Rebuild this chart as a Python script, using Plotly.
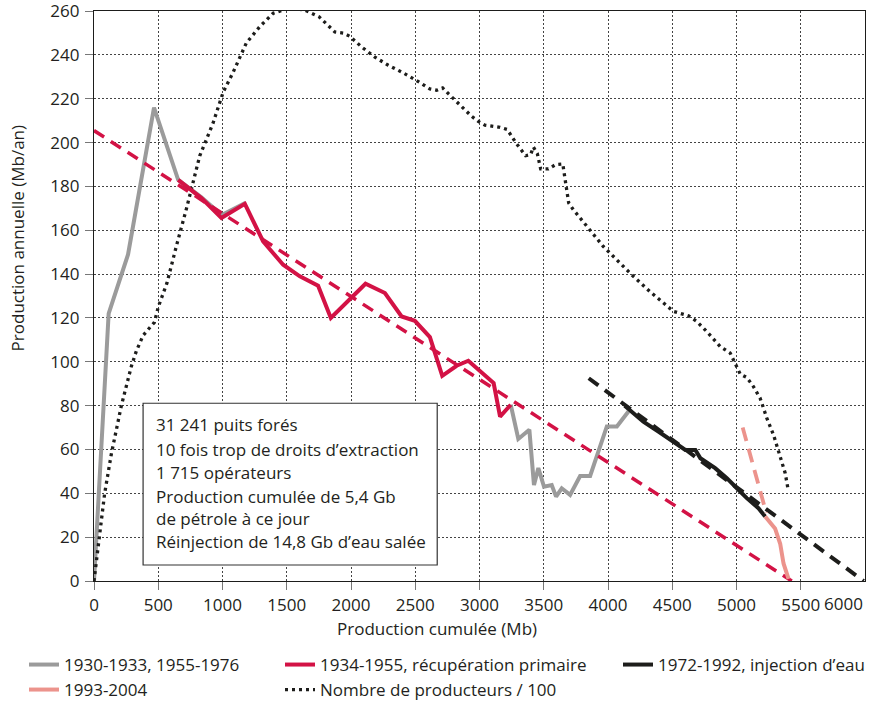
import plotly.graph_objects as go

# ---- data (cumulative production in Mb, annual production in Mb/yr) ----
gray_x = [0, 114, 265, 467, 655, 836, 994, 1180, None,
          3243, 3302, 3388, 3424, 3458, 3502, 3562, 3596, 3640, 3705, 3783, 3861, 3991, 4069, 4159]
gray_y = [0, 122, 149, 216, 183, 175, 167, 172.5, None,
          80.4, 64.8, 69, 43.8, 51.5, 43, 43.8, 38.5, 42.3, 39.3, 47.9, 47.9, 70.5, 70.5, 77.3]

red_x = [655, 836, 992, 1174, 1316, 1472, 1602, 1744, 1843, 2113, 2264, 2394, 2497,
         2614, 2710, 2822, 2913, 3110, 3160, 3243]
red_y = [183, 174.7, 165.6, 172.1, 154.9, 144.3, 139, 134.7, 120, 135.6, 131.4, 120.7, 118.7,
         111.3, 93.6, 98.2, 100.5, 90.3, 75, 80.4]
red_trend_x = [0, 5430]
red_trend_y = [205.5, 0]

black_x = [4130, 4275, 4392, 4486, 4602, 4680, 4719, 4834, 4925, 5003, 5080, 5171, 5223]
black_y = [80, 72.7, 68.2, 64.4, 59.8, 59.8, 56, 51.5, 46.9, 42.3, 37.8, 33.2, 29.4]
black_trend_x = [3850, 5990]
black_trend_y = [92.5, 0]

pink_x = [5223, 5300, 5340, 5366, 5405]
pink_y = [29.4, 24, 17, 8, 1]
pink_trend_x = [5048, 5232]
pink_trend_y = [70, 31]

prod_x = [0, 44, 83, 135, 174, 213, 252, 291, 330, 382, 440, 470, 500, 568, 642, 720, 823, 927,
          1005, 1082, 1186, 1291, 1394, 1498, 1560, 1641, 1752, 1841, 1874, 1939, 1991, 2082,
          2186, 2290, 2401, 2511, 2614, 2666, 2713, 2760, 2848, 2939, 2990, 3042, 3159, 3216,
          3282, 3359, 3398, 3419, 3450, 3476, 3536, 3593, 3648, 3668, 3684, 3694, 3730, 3808,
          3886, 3964, 4055, 4185, 4327, 4457, 4509, 4626, 4691, 4769, 4873, 4951, 4977, 5029,
          5081, 5132, 5184, 5236, 5288, 5340, 5379, 5400]
prod_y = [0, 20, 40, 58, 70, 80, 89, 98, 105, 112, 116, 118, 125, 136, 153, 170, 194, 209,
          223, 232, 245.5, 253, 259, 261, 261.2, 260.4, 257.4, 252.4, 250.5, 250, 248.5, 243.7,
          239, 235.3, 232, 228.3, 224.5, 223.9, 225, 222.2, 217, 212, 209.7, 208, 207, 206,
          200, 194, 194.5, 198, 195, 188, 188, 190, 190.3, 183, 176, 172.5, 169.4, 163.6,
          158, 152.6, 147.3, 139.7, 132, 125.3, 123, 121, 118.4, 113.8, 107, 104, 101, 94.4,
          92.8, 88.7, 83.4, 74.3, 66.7, 56, 49.2, 42.3]

x_ticks = [0, 500, 1000, 1500, 2000, 2500, 3000, 3500, 4000, 4500, 5000, 5500]
y_ticks = list(range(0, 261, 20))

info_lines = [
    "31 241 puits forés",
    "10 fois trop de droits d’extraction",
    "1 715 opérateurs",
    "Production cumulée de 5,4 Gb<br>de pétrole à ce jour",
    "Réinjection de 14,8 Gb d’eau salée",
]
info_line_y = [71.2, 59.8, 49.3, 33.7, 18.2]

# ---- styling ----
FONT = "Open Sans"
TXT = "#231f20"
GRAY = "#9b9b9b"
RED = "#d31245"
BLACK = "#1d1d1b"
PINK = "#ec938c"
FS = 17

fig = go.Figure()

fig.add_trace(go.Scatter(x=gray_x, y=gray_y, mode="lines", name="1930-1933, 1955-1976",
                         line=dict(color=GRAY, width=4), legend="legend"))
fig.add_trace(go.Scatter(x=prod_x, y=prod_y, mode="lines", name="Nombre de producteurs / 100",
                         line=dict(color=BLACK, width=3.3, dash="3px,4px"), legend="legend5",
                         cliponaxis=False))
fig.add_trace(go.Scatter(x=red_x, y=red_y, mode="lines", name="1934-1955, récupération primaire",
                         line=dict(color=RED, width=4), legend="legend2"))
fig.add_trace(go.Scatter(x=red_trend_x, y=red_trend_y, mode="lines", showlegend=False,
                         line=dict(color=RED, width=3.5, dash="12px,8px")))
fig.add_trace(go.Scatter(x=black_trend_x, y=black_trend_y, mode="lines", showlegend=False,
                         line=dict(color=BLACK, width=4, dash="12px,8px")))
fig.add_trace(go.Scatter(x=black_x, y=black_y, mode="lines", name="1972-1992, injection d’eau",
                         line=dict(color=BLACK, width=4), legend="legend3"))
fig.add_trace(go.Scatter(x=pink_trend_x, y=pink_trend_y, mode="lines", showlegend=False,
                         line=dict(color=PINK, width=3.8, dash="14px,8px")))
fig.add_trace(go.Scatter(x=pink_x, y=pink_y, mode="lines", name="1993-2004",
                         line=dict(color=PINK, width=4), legend="legend4"))

# information box
fig.add_shape(type="rect", xref="x", yref="y", x0=382, x1=2671, y0=7.3, y1=81.1,
              line=dict(color="#333", width=1.2), fillcolor="white", layer="between")
for line_text, ly in zip(info_lines, info_line_y):
    fig.add_annotation(x=465, y=ly, xref="x", yref="y", text=line_text, showarrow=False,
                       xanchor="left", yanchor="middle", align="left",
                       font=dict(family=FONT, size=FS, color=TXT))

# axis titles
fig.add_annotation(x=-0.0999, y=0.601, xref="paper", yref="paper", text="Production annuelle (Mb/an)",
                   textangle=-90, showarrow=False, xanchor="center", yanchor="middle",
                   font=dict(family=FONT, size=FS, color=TXT))
fig.add_annotation(x=0.445, y=-0.0825, xref="paper", yref="paper", text="Production cumulée (Mb)",
                   showarrow=False, xanchor="center", yanchor="middle",
                   font=dict(family=FONT, size=FS, color=TXT))
# last x tick label, kept inside the page
fig.add_annotation(x=6000, y=0, xref="x", yref="paper", text="6000", showarrow=False,
                   xanchor="right", yanchor="middle", yshift=-22,
                   font=dict(family=FONT, size=FS, color=TXT))

axis_common = dict(showline=True, linecolor="#1d1d1b", linewidth=1.2, mirror=True,
                   showgrid=True, gridcolor="#444", gridwidth=1, griddash="2px,2px",
                   ticks="outside", ticklen=8, tickcolor="#777", tickwidth=1,
                   tickfont=dict(family=FONT, size=FS, color=TXT), zeroline=False,
                   ticklabeloverflow="allow")

fig.update_xaxes(range=[0, 6000], tickvals=x_ticks, ticklabelstandoff=0, **axis_common)
fig.update_yaxes(range=[0, 260.05], tickvals=y_ticks, ticklabelstandoff=2, **axis_common)

legend_common = dict(orientation="v", xanchor="left", yanchor="middle", bgcolor="rgba(0,0,0,0)",
                     font=dict(family=FONT, size=FS, color=TXT))


def px_x(p):
    return (p - 94) / 771


def px_y(p):
    return (581 - p) / 570


fig.update_layout(
    width=876, height=701,
    margin=dict(l=94, r=11, t=11, b=120, autoexpand=False),
    paper_bgcolor="white", plot_bgcolor="white",
    font=dict(family=FONT, size=FS, color=TXT),
    legend=dict(x=px_x(24), y=px_y(665), **legend_common),
    legend2=dict(x=px_x(280), y=px_y(665), **legend_common),
    legend3=dict(x=px_x(618), y=px_y(665), **legend_common),
    legend4=dict(x=px_x(24), y=px_y(690), **legend_common),
    legend5=dict(x=px_x(280), y=px_y(690), **legend_common),
)

fig.write_html("out.html")
